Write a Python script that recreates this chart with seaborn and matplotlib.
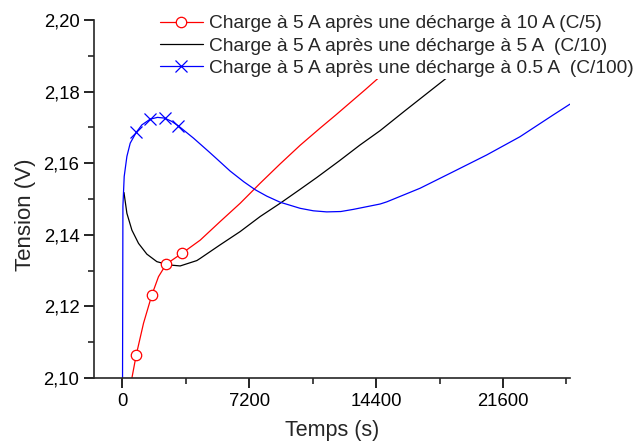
import matplotlib
matplotlib.use("Agg")
import matplotlib.pyplot as plt
from matplotlib.lines import Line2D
from matplotlib.ticker import FuncFormatter, MultipleLocator
import pandas as pd
import seaborn as sns

# ---- data ----
t_red = [450, 550, 794, 1209, 1682, 2058, 2495, 3382, 4422, 5556, 6690, 7824, 8958, 10091, 11225,
         12100, 13020, 13776, 15500, 17000, 18200]
v_red = [2.095, 2.100, 2.1064, 2.1153, 2.1232, 2.1283, 2.1318, 2.1348, 2.1385, 2.1437, 2.1488, 2.1544,
         2.1598, 2.1650, 2.1698, 2.1734, 2.1773, 2.1805, 2.1880, 2.1945, 2.2000]
red_markers = [2, 4, 6, 7]

t_black = [100, 266, 550, 926, 1398, 1965, 2626, 3288, 4233, 4422, 5556, 6690, 7824, 8958, 10091,
           11036, 12300, 13493, 14630, 16000, 17650, 20000, 22500]
v_black = [2.1518, 2.1460, 2.1413, 2.1376, 2.1346, 2.1325, 2.1316, 2.1313, 2.1328, 2.1334, 2.1372,
           2.1409, 2.1451, 2.1488, 2.1527, 2.1560, 2.1606, 2.1651, 2.1691, 2.1745, 2.1809, 2.1900, 2.2000]

t_blue = [10, 40, 113, 266, 454, 794, 1115, 1587, 2000, 2400, 2800, 3193, 4044, 4894, 5300, 6123,
          6900, 7540, 8200, 8958, 10091, 10847, 11600, 12400, 13110, 14630, 15006, 16894, 18770,
          20674, 22564, 24453, 25400]
v_blue = [2.080, 2.148, 2.1563, 2.1619, 2.1656, 2.1686, 2.1707, 2.1723, 2.1728, 2.1726, 2.1717,
          2.1704, 2.1670, 2.1633, 2.1615, 2.1578, 2.1548, 2.1526, 2.1508, 2.1491, 2.1474, 2.1467,
          2.1464, 2.1465, 2.1471, 2.1486, 2.1492, 2.1530, 2.1576, 2.1623, 2.1674, 2.1735, 2.1765]
blue_markers = [5, 7, 9, 11]

labels = ["Charge à 5 A après une décharge à 10 A (C/5)",
          "Charge à 5 A après une décharge à 5 A  (C/10)",
          "Charge à 5 A après une décharge à 0.5 A  (C/100)"]
x_ticks = [0, 7200, 14400, 21600]

# ---- plot ----
sns.set_style("ticks")
plt.rcParams["font.family"] = ["Liberation Sans", "DejaVu Sans"]

fig = plt.figure(figsize=(6.4, 4.43), dpi=100)
ax = fig.add_axes([94/640, 1-378/443, (570-94)/640, (378-20)/443])

df_red = pd.DataFrame({"t": t_red, "v": v_red})
df_black = pd.DataFrame({"t": t_black, "v": v_black})
df_blue = pd.DataFrame({"t": t_blue, "v": v_blue})

lw = 0.9
sns.lineplot(data=df_black, x="t", y="v", ax=ax, color="black", lw=lw, sort=False, estimator=None)
sns.lineplot(data=df_red, x="t", y="v", ax=ax, color="red", lw=lw, sort=False, estimator=None,
             marker="o", markevery=red_markers, markersize=7.5, markerfacecolor="white",
             markeredgecolor="red", markeredgewidth=0.9)
sns.lineplot(data=df_blue, x="t", y="v", ax=ax, color="blue", lw=lw, sort=False, estimator=None,
             marker="x", markevery=blue_markers, markersize=8, markeredgecolor="blue",
             markeredgewidth=0.9)

ax.set_xlim(-1600, 25400)
ax.set_ylim(2.10, 2.20)
ax.set_xticks(x_ticks)
ax.xaxis.set_minor_locator(MultipleLocator(3600))
ax.yaxis.set_major_locator(MultipleLocator(0.02))
ax.yaxis.set_minor_locator(MultipleLocator(0.01))
ax.yaxis.set_major_formatter(FuncFormatter(lambda v, p: f"{v:.2f}".replace(".", ",")))
ax.xaxis.set_major_formatter(FuncFormatter(lambda v, p: f"{v:.0f}"))

sns.despine(ax=ax)
for s in ["left", "bottom"]:
    ax.spines[s].set_linewidth(1.2)
ax.tick_params(which="major", direction="out", length=7, width=1.2, labelsize=13.3, colors="black")
ax.tick_params(which="minor", direction="out", length=4.5, width=1.2)
ax.tick_params(axis="x", pad=4)

ax.set_xlabel("Temps (s)", fontsize=15.5)
ax.set_ylabel("Tension (V)", fontsize=16)
ax.xaxis.set_label_coords(0.5, -0.118)
ax.yaxis.set_label_coords(-0.122, 0.455)

handles = [
    Line2D([], [], color="red", lw=lw, marker="o", markersize=7.5, markerfacecolor="white",
           markeredgecolor="red", markeredgewidth=0.9),
    Line2D([], [], color="black", lw=lw),
    Line2D([], [], color="blue", lw=lw, marker="x", markersize=8, markeredgecolor="blue", markeredgewidth=0.9),
]
leg = ax.legend(handles, labels, loc="upper left", bbox_to_anchor=(158/640, 1-13/443),
                bbox_transform=fig.transFigure, fontsize=13.8, frameon=True, fancybox=False,
                handlelength=2.25, handletextpad=0.3, labelspacing=0.25, borderpad=0.1,
                borderaxespad=0)
leg.get_frame().set_facecolor("white")
leg.get_frame().set_edgecolor("none")
leg.get_frame().set_alpha(1.0)

fig.savefig("out.png", dpi=100)
